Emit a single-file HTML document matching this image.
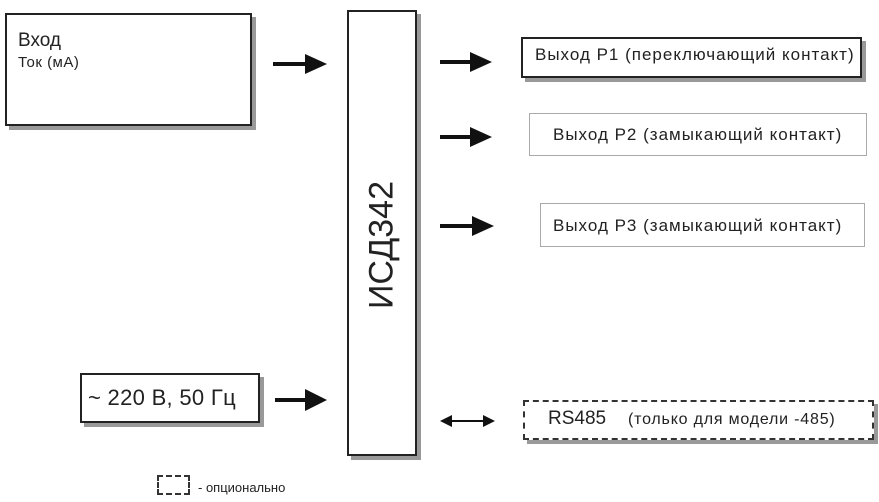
<!DOCTYPE html>
<html><head><meta charset="utf-8"><style>
body{margin:0;width:879px;height:502px;background:#fff;position:relative;overflow:hidden;font-family:"Liberation Sans",sans-serif;color:#222}
.b{position:absolute;box-sizing:border-box;background:#fff}
.sh{box-shadow:4px 4px 0 #999}
.t{position:absolute;white-space:nowrap}
</style></head><body>
<div class="b sh" style="left:5px;top:13px;width:247px;height:113px;border:2px solid #222"></div>
<div class="t" style="left:18px;top:30px;font-size:19px">Вход</div>
<div class="t" style="left:18px;top:54px;font-size:15px;letter-spacing:0.5px">Ток (мА)</div>

<div class="b sh" style="left:347px;top:10px;width:70px;height:446px;border:2px solid #222"></div>
<div class="t" style="left:382px;top:245px;font-size:34px;transform:translate(-50%,-50%) rotate(-90deg)">ИСД342</div>

<div class="b sh" style="left:521px;top:37px;width:341px;height:41px;border:2px solid #222"></div>
<div class="t" style="left:535px;top:45px;font-size:17px;letter-spacing:1px">Выход Р1 (переключающий контакт)</div>
<div class="b" style="left:529px;top:113px;width:338px;height:43px;border:1px solid #aaa"></div>
<div class="t" style="left:553px;top:125px;font-size:17px;letter-spacing:1px">Выход Р2 (замыкающий контакт)</div>
<div class="b" style="left:540px;top:203px;width:325px;height:44px;border:1px solid #aaa"></div>
<div class="t" style="left:553px;top:216px;font-size:17px;letter-spacing:1px">Выход Р3 (замыкающий контакт)</div>

<div class="b sh" style="left:80px;top:373px;width:180px;height:50px;border:2px solid #222"></div>
<div class="t" style="left:88px;top:385px;font-size:22px;letter-spacing:0.3px">~ 220 В, 50 Гц</div>

<div class="b sh" style="left:523px;top:400px;width:351px;height:40px;border:2px dashed #333"></div>
<div class="t" style="left:548px;top:408px;font-size:19px">RS485</div>
<div class="t" style="left:628px;top:411px;font-size:16px;letter-spacing:0.8px">(только для модели -485)</div>

<div class="b" style="left:157px;top:475px;width:33px;height:20px;border:2px dashed #333"></div>
<div class="t" style="left:198px;top:480px;font-size:13px">- опционально</div>

<svg width="879" height="502" style="position:absolute;left:0;top:0">
<g fill="#111" stroke="#111" stroke-width="4">
<line x1="273" y1="64" x2="308" y2="64"/><polygon stroke="none" points="305,54 327,64 305,74"/>
<line x1="440" y1="62" x2="472" y2="62"/><polygon stroke="none" points="470,52 492,62 470,72"/>
<line x1="440" y1="137" x2="472" y2="137"/><polygon stroke="none" points="470,127 492,137 470,147"/>
<line x1="440" y1="226" x2="474" y2="226"/><polygon stroke="none" points="472,216 494,226 472,236"/>
<line x1="275" y1="400" x2="308" y2="400"/><polygon stroke="none" points="305,389 327,400 305,411"/>
<line x1="450" y1="421" x2="485" y2="421" stroke-width="2"/>
<polygon stroke="none" points="440,421 452,415 452,427"/><polygon stroke="none" points="495,421 483,415 483,427"/>
</g></svg>
</body></html>
